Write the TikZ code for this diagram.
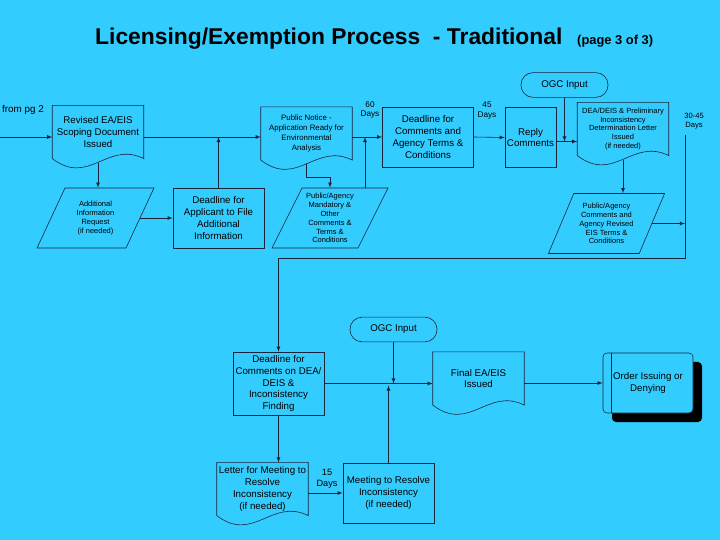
\documentclass[tikz,border=0pt]{standalone}
\usepackage{fontspec}
\setmainfont{Liberation Sans}
\usepackage{tikz}
\usepackage{xcolor}
\usetikzlibrary{arrows,shapes,positioning,calc,shadows}

\definecolor{slideblue}{RGB}{51,204,255}
\definecolor{inkline}{RGB}{25,35,60}

\tikzset{
  flowline/.style={draw=inkline, line width=0.5pt},
  bigtext/.style={font=\fontsize{8.3}{10}\selectfont},
  smalltext/.style={font=\fontsize{6.4}{7.6}\selectfont},
  daytext/.style={align=center, inner sep=0pt, font=\fontsize{7}{8.5}\selectfont},
  procbox/.style={rectangle, flowline, align=center, minimum width=2.73cm,
    minimum height=1.8cm, inner sep=1pt, bigtext},
  docbox/.style={rectangle, align=center, minimum width=2.73cm,
    minimum height=1.58cm, inner sep=1pt},
  databox/.style={trapezium, trapezium left angle=63, trapezium right angle=117,
    trapezium stretches=true, flowline, align=center, minimum width=3.51cm,
    minimum height=1.8cm, inner sep=0pt, smalltext},
  ogcbox/.style={rectangle, rounded corners=0.36cm, flowline, minimum width=2.61cm,
    minimum height=0.74cm, bigtext},
  orderbox/.style={rectangle, rounded corners=0.12cm, flowline, fill=slideblue,
    drop shadow={shadow xshift=0.27cm, shadow yshift=-0.27cm, fill=black, opacity=1},
    minimum width=2.7cm, minimum height=1.8cm, align=center, bigtext}
}

% outline of a document symbol round a docbox node
\newcommand{\docframe}[1]{%
  \draw[flowline] (#1.south west) -- (#1.north west) -- (#1.north east) -- (#1.south east)
    .. controls ($(#1.south east)!0.4!(#1.south west)+(0,-18)$)
    and ($(#1.south east)!0.6!(#1.south west)+(0,28)$) .. (#1.south west);}

\begin{document}
\begin{tikzpicture}[x=0.03cm, y=-0.03cm, >=latex]
        \useasboundingbox (0,0) rectangle (720,540);
        \fill[slideblue] (0,0) rectangle (720,540);

        % Title
        \node[anchor=base west, inner sep=0pt, font=\bfseries\fontsize{19.5}{23}\selectfont]
          (title) at (95,45) {Licensing/Exemption Process\ \ - Traditional};
        \node[anchor=base west, inner sep=0pt, font=\bfseries\fontsize{11}{13}\selectfont]
          (page) at (577,45) {(page 3 of 3)};

        % Upper row
        \node[anchor=west, inner sep=0pt, font=\fontsize{8.4}{10}\selectfont] (frompg) at (2,110) {from pg 2};
        \coordinate (pgin) at (0,137);
        \node[docbox, bigtext] (revised) at (98,132) {Revised EA/EIS\\Scoping Document\\Issued};
        \node[docbox, font=\fontsize{6.7}{8.5}\selectfont] (notice) at (306.5,133.5)
          {Public Notice -\\Application Ready for\\Environmental\\Analysis};
        \node[procbox] (deadline) at (428,137) {Deadline for\\Comments and\\Agency Terms \&\\Conditions};
        \node[procbox, minimum width=1.53cm] (reply) at (530.5,137.5) {Reply\\Comments};
        \node[ogcbox] (ogctop) at (564.5,85) {OGC Input};
        \node[docbox, font=\fontsize{6.4}{7.4}\selectfont] (prelim) at (623,129)
          {DEA/DEIS \& Preliminary\\Inconsistency\\Determination Letter\\Issued\\(if needed)};
        \docframe{revised}
        \docframe{notice}
        \docframe{prelim}

        \node[daytext] (days60) at (370,110) {60\\Days};
        \node[daytext] (days45) at (487,111) {45\\Days};
        \node[daytext, font=\fontsize{6.5}{8}\selectfont] (days3045) at (694,121) {30-45\\Days};

        % Second row
        \node[databox] (addinfo) at (95.5,218) {Additional\\Information\\Request\\(if needed)};
        \node[procbox] (applicant) at (218.5,218) {Deadline for\\Applicant to File\\Additional\\Information};
        \node[databox] (mandatory) at (330,218)
          {Public/Agency\\Mandatory \&\\Other\\Comments \&\\Terms \&\\Conditions};
        \node[databox] (revisedeis) at (606.5,223.5)
          {Public/Agency\\Comments and\\Agency Revised\\EIS Terms \&\\Conditions};

        % Lower part
        \node[ogcbox] (ogcmid) at (393.5,329.5) {OGC Input};
        \node[procbox, minimum height=1.89cm] (deis) at (278.5,383.5)
          {Deadline for\\Comments on DEA/\\DEIS \&\\Inconsistency\\Finding};
        \node[docbox, bigtext] (final) at (478.5,378.5) {Final EA/EIS\\Issued};
        \node[orderbox] (order) at (648,383) {Order Issuing or\\Denying};
        \node[docbox, bigtext] (letter) at (262.5,489) {Letter for Meeting to\\Resolve\\Inconsistency\\(if needed)};
        \node[procbox] (meeting) at (388.5,493) {Meeting to Resolve\\Inconsistency\\(if needed)};
        \node[daytext, font=\fontsize{7.8}{9.5}\selectfont] (days15) at (327,479) {15\\Days};
        \docframe{final}
        \docframe{letter}
        \draw[flowline] ([xshift=0.27cm]order.north west) -- ([xshift=0.27cm]order.south west);

        % Connectors, upper row
        \draw[flowline, ->] (pgin) -- (pgin -| revised.west);
        \draw[flowline, ->] (revised.east |- deadline) -- (notice.west |- deadline);
        \draw[flowline, ->] (applicant.north) -- (applicant.north |- deadline);
        \draw[flowline, ->, shorten <=0.13cm] (revised.south) -- (revised.south |- addinfo.north);
        \draw[flowline, ->] (addinfo.east) -- (addinfo.east -| applicant.west);
        \draw[flowline, ->, shorten <=0.12cm] (notice.south) -- ++(0,17) -| (mandatory.north);
        \draw[flowline, ->] ([xshift=1.05cm]mandatory.north) -- ([xshift=1.05cm]mandatory.north |- deadline);
        \draw[flowline, ->] (notice.east |- deadline) -- (deadline.west);
        \draw[flowline, ->] (deadline.east) -- (reply.west);
        \draw[flowline, ->] ([yshift=-0.12cm]reply.east) -- ([yshift=-0.12cm]reply.east -| prelim.west);
        \draw[flowline, ->] (ogctop.south) -- ([yshift=-0.12cm]ogctop.south |- reply.east);
        \draw[flowline, ->, shorten <=0.12cm] (prelim.south) -- (prelim.south |- revisedeis.north);

        % Loop down to the lower part
        \coordinate (rtop) at (685,135);
        \coordinate (rbot) at (685,258);
        \draw[flowline, ->] (revisedeis.east) -- (revisedeis.east -| rtop);
        \draw[flowline, ->] (rtop) -- (rbot) -| (deis.north);

        % Connectors, lower part
        \draw[flowline, ->] (deis.east) -- (deis.east -| final.west);
        \draw[flowline, ->] (ogcmid.south) -- (ogcmid.south |- deis.east);
        \draw[flowline, ->] (meeting.north) -- ([yshift=-0.06cm]meeting.north |- deis.east);
        \draw[flowline, ->] (order.west -| final.east) -- (order.west);
        \draw[flowline, ->] (deis.south) -- (deis.south |- letter.north);
        \draw[flowline, ->] (letter.east |- meeting) -- (meeting.west);
    \end{tikzpicture}
\end{document}
